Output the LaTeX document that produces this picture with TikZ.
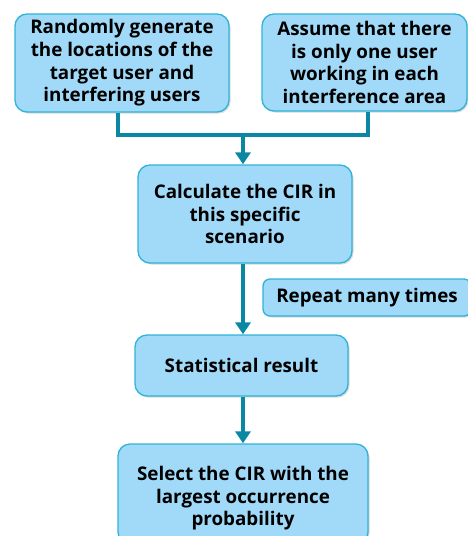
\documentclass[tikz,border=0pt]{standalone}
\usepackage{fontspec}
\setmainfont{Open Sans}
\usetikzlibrary{arrows.meta,shadows}
\definecolor{boxfill}{HTML}{A0DAF8}
\definecolor{boxline}{HTML}{2FB3D6}
\definecolor{conn}{HTML}{0A87A3}
\tikzset{
  box/.style={draw=boxline, line width=1.3pt, fill=boxfill, rounded corners=12pt,
    drop shadow={shadow xshift=1.5pt, shadow yshift=-1.5pt, opacity=0.3},
    align=center, font=\fontsize{18.8}{22.7}\selectfont\bfseries, inner sep=0pt},
  conline/.style={draw=conn, line width=4.2pt},
  conarrow/.style={conline, -{Triangle[length=12pt,width=15pt]}}
}
\begin{document}
\begin{tikzpicture}[x=1pt,y=-1pt]
\useasboundingbox (0,0) rectangle (468,536);
\node[box, minimum width=214pt, minimum height=98pt] (b1) at (122,63) {Randomly generate\\the locations of the\\target user and\\interfering users};
\node[box, minimum width=205pt, minimum height=97pt] (b2) at (364.5,62.5) {Assume that there\\is only one user\\working in each\\interference area};
\node[box, minimum width=214pt, minimum height=98pt] (b3) at (245,214) {Calculate the CIR in\\this specific\\scenario};
\node[box, minimum width=208pt, minimum height=37pt, rounded corners=7pt] (rep) at (367,297.5) {Repeat many times};
\node[box, minimum width=213pt, minimum height=61pt] (b4) at (241.5,365.5) {Statistical result};
\node[box, minimum width=250pt, minimum height=100pt, text depth=0pt] (b5) at (243,494) {\raisebox{19pt}{\parbox{240pt}{\centering Select the CIR with the\\largest occurrence\\probability}}};
\coordinate (j) at (243,135);
\draw[conline] (b1.south -| 118,0) |- (j);
\draw[conline] (b2.south -| 368,0) |- (j);
\draw[conarrow] (j) -- (b3.north -| j);
\draw[conarrow] (b3.south -| j) -- (b4.north -| j);
\draw[conarrow] (b4.south -| j) -- (b5.north -| j);
\end{tikzpicture}
\end{document}
